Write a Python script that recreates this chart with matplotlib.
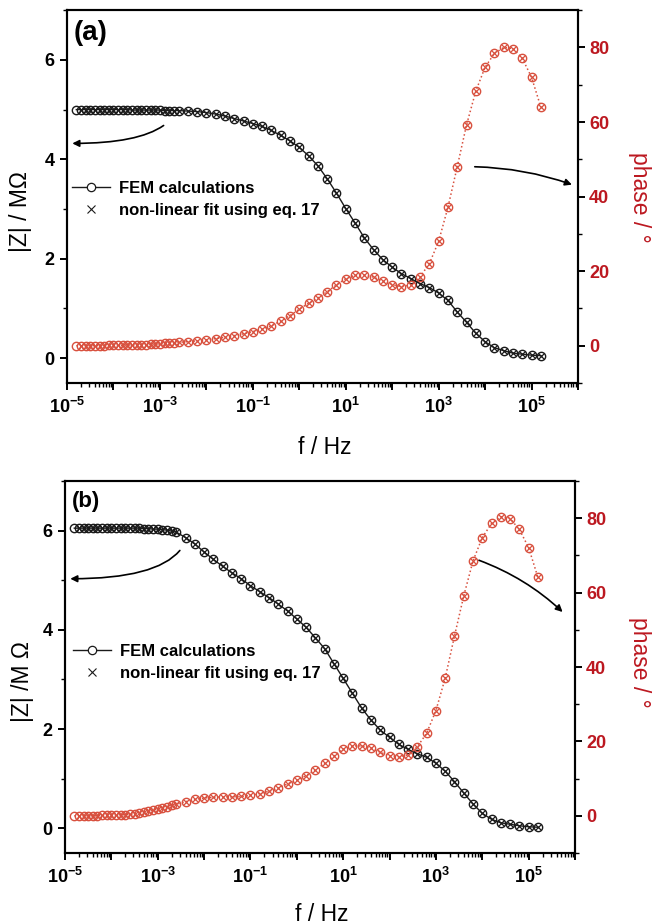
import numpy as np
import matplotlib
matplotlib.use("Agg")
import matplotlib.pyplot as plt
from matplotlib.lines import Line2D
from matplotlib.ticker import FixedLocator, FuncFormatter, LogLocator, MultipleLocator, NullFormatter

plt.rcParams['font.family'] = ['Liberation Sans', 'DejaVu Sans']
plt.rcParams['font.weight'] = 'bold'
plt.rcParams['mathtext.fontset'] = 'custom'
plt.rcParams['mathtext.rm'] = 'Liberation Sans'
plt.rcParams['mathtext.bf'] = 'Liberation Sans:bold'

""" ====================== donnees : log10(f / Hz) ====================== """

log_f = [-4.8, -4.7, -4.6, -4.5, -4.4, -4.3, -4.2, -4.1, -4.0, -3.9, -3.8,
         -3.7, -3.6, -3.5, -3.4, -3.3, -3.2, -3.1, -3.0, -2.9, -2.8, -2.7,
         -2.6, -2.4, -2.2, -2.0, -1.8, -1.6, -1.4, -1.2, -1.0, -0.8, -0.6,
         -0.4, -0.2, 0.0, 0.2, 0.4, 0.6, 0.8, 1.0, 1.2, 1.4, 1.6, 1.8, 2.0,
         2.2, 2.4, 2.6, 2.8, 3.0, 3.2, 3.4, 3.6, 3.8, 4.0, 4.2, 4.4, 4.6,
         4.8, 5.0, 5.2]

# (a) |Z| en MOhm et phase en degres
z_a = [5.00, 5.00, 5.00, 5.00, 5.00, 5.00, 5.00, 5.00, 5.00, 5.00, 5.00,
       5.00, 4.99, 4.99, 4.99, 4.99, 4.99, 4.99, 4.99, 4.98, 4.98, 4.98,
       4.98, 4.97, 4.96, 4.94, 4.91, 4.87, 4.82, 4.77, 4.72, 4.66, 4.58,
       4.48, 4.37, 4.24, 4.07, 3.87, 3.61, 3.32, 3.01, 2.72, 2.42, 2.18,
       1.98, 1.83, 1.70, 1.60, 1.50, 1.42, 1.31, 1.16, 0.93, 0.72, 0.50,
       0.33, 0.21, 0.15, 0.10, 0.08, 0.06, 0.05]
phase_a = [0.0, 0.0, 0.0, 0.0, 0.0, 0.0, 0.0, 0.1, 0.1, 0.1, 0.1,
           0.2, 0.2, 0.2, 0.3, 0.3, 0.4, 0.4, 0.5, 0.6, 0.7, 0.8,
           0.9, 1.1, 1.3, 1.6, 1.9, 2.3, 2.7, 3.2, 3.8, 4.5, 5.4,
           6.6, 8.1, 9.8, 11.4, 12.8, 14.5, 16.3, 18.0, 18.9, 18.9, 18.4,
           17.3, 16.4, 15.8, 16.3, 18.5, 22.0, 28.0, 37.1, 48.0, 59.2, 68.3,
           74.7, 78.4, 80.0, 79.7, 77.1, 72.0, 64.0]

# (b)
z_b = [6.05, 6.05, 6.05, 6.05, 6.05, 6.05, 6.05, 6.05, 6.05, 6.05, 6.05,
       6.05, 6.05, 6.05, 6.05, 6.04, 6.04, 6.03, 6.03, 6.02, 6.01, 5.99,
       5.97, 5.86, 5.73, 5.57, 5.42, 5.28, 5.15, 5.03, 4.89, 4.77, 4.65,
       4.52, 4.38, 4.22, 4.05, 3.84, 3.62, 3.32, 3.02, 2.72, 2.42, 2.18,
       1.98, 1.83, 1.69, 1.59, 1.50, 1.43, 1.31, 1.15, 0.94, 0.71, 0.49,
       0.30, 0.18, 0.11, 0.08, 0.05, 0.03, 0.02]
phase_b = [0.0, 0.0, 0.0, 0.0, 0.0, 0.0, 0.1, 0.1, 0.2, 0.2, 0.3,
           0.3, 0.4, 0.5, 0.7, 0.9, 1.2, 1.5, 1.9, 2.2, 2.5, 2.8,
           3.1, 3.8, 4.4, 4.8, 5.0, 5.1, 5.1, 5.2, 5.5, 6.0, 6.6,
           7.4, 8.6, 9.6, 10.8, 12.4, 14.1, 16.1, 17.9, 18.8, 18.8, 18.2,
           17.1, 16.1, 15.9, 16.4, 18.6, 22.2, 28.3, 37.0, 48.3, 59.1, 68.5,
           74.8, 78.6, 80.4, 79.9, 77.0, 72.1, 64.1]

decades = list(range(-5, 7))
labels_leg = ['FEM calculations', 'non-linear fit using eq. 17']

BLACK = '#1a1a1a'
RED = '#d8503e'
RED_TXT = '#bc1820'

f = 10.0 ** np.array(log_f)


def dec_label(v, pos):
    k = int(round(np.log10(v)))
    if k % 2 == 0 or k > 5:
        return ''
    return r'$\mathbf{10^{%d}}$' % k


def panel(rect, z, ph, tag, tag_size, ylab, lab_pos, leg_pos, arrows):
    ax = fig.add_axes(rect)
    ax2 = ax.twinx()

    # |Z| : FEM (cercles + trait) et ajustement (croix)
    ax.plot(f, z, '-', color=BLACK, lw=1.0, marker='o', ms=6, mfc='none', mew=1.0)
    ax.plot(f[1:], z[1:], 'x', color=BLACK, ms=5, mew=0.9)
    # phase
    ax2.plot(f, ph, ':', color=RED, lw=1.1, marker='o', ms=6, mfc='none', mew=1.0)
    ax2.plot(f[1:], ph[1:], 'x', color=RED, ms=5, mew=0.9)

    ax.set_xscale('log')
    ax.set_xlim(1e-5, 1e6)
    ax.set_ylim(-0.5, 7)
    ax2.set_ylim(-10, 90)

    ax.xaxis.set_major_locator(FixedLocator([10.0 ** k for k in decades]))
    ax.xaxis.set_major_formatter(FuncFormatter(dec_label))
    ax.xaxis.set_minor_locator(LogLocator(base=10, subs=np.arange(2, 10), numticks=30))
    ax.xaxis.set_minor_formatter(NullFormatter())
    ax.yaxis.set_major_locator(FixedLocator([0, 2, 4, 6]))
    ax.yaxis.set_minor_locator(MultipleLocator(1))
    ax2.yaxis.set_major_locator(FixedLocator([0, 20, 40, 60, 80]))
    ax2.yaxis.set_minor_locator(MultipleLocator(10))

    for a in (ax, ax2):
        for s in a.spines.values():
            s.set_linewidth(1.5)
    ax.tick_params(which='major', direction='out', length=5, width=1.4, labelsize=13, pad=4)
    ax.tick_params(which='minor', direction='out', length=3, width=1.0)
    ax.tick_params(axis='x', which='major', pad=5)
    ax2.tick_params(which='major', direction='out', length=5, width=1.4, labelsize=13,
                    pad=3, labelcolor=RED_TXT, color='black')
    ax2.tick_params(which='minor', direction='out', length=3, width=1.0)

    ax.set_xlabel('f / Hz', fontsize=16.5, fontweight='normal', va='center')
    ax.xaxis.set_label_coords(0.504, lab_pos[0])
    ax.set_ylabel(ylab, fontsize=16.5, fontweight='normal', va='center')
    ax.yaxis.set_label_coords(lab_pos[1], lab_pos[2])
    ax2.set_ylabel('phase / °', fontsize=16.5, fontweight='normal', color=RED_TXT,
                   rotation=270, va='center')
    ax2.yaxis.set_label_coords(lab_pos[3], lab_pos[4])

    ax.text(tag[0], tag[1], tag[2], transform=ax.transAxes, fontsize=tag_size,
            fontweight='bold', va='center', ha='left')

    h1 = Line2D([], [], color=BLACK, lw=1.0, marker='o', ms=6, mfc='white', mew=0.9)
    h2 = Line2D([], [], color=BLACK, ls='none', marker='x', ms=6, mew=0.8)
    ax.legend([h1, h2], labels_leg, loc='upper left', bbox_to_anchor=leg_pos,
              frameon=False, prop=dict(size=12, weight='bold'), handlelength=2.3,
              handletextpad=0.5, labelspacing=0.4, borderpad=0, borderaxespad=0)

    # fleches vers les axes
    (s1, e1, cs1), (s2, e2, cs2) = arrows
    ax.annotate('', xy=e1, xytext=s1,
                arrowprops=dict(arrowstyle='-|>', color='black', lw=1.2,
                                connectionstyle=cs1, shrinkA=0, shrinkB=0,
                                mutation_scale=10))
    ax2.annotate('', xy=e2, xytext=s2,
                 arrowprops=dict(arrowstyle='-|>', color='black', lw=1.2,
                                 connectionstyle=cs2, shrinkA=0, shrinkB=0,
                                 mutation_scale=10))
    return ax, ax2


fig = plt.figure(figsize=(6.52, 9.24), dpi=100)

panel([0.1028, 0.5855, 0.7837, 0.4035], z_a, phase_a, (0.012, 0.938, '(a)'), 20,
      '|Z| / MΩ', (-0.172, -0.092, 0.461, 1.121, 0.499), (0.01, 0.542),
      [((1.2e-3, 4.68), (1.3e-5, 4.32), 'angle3,angleA=35,angleB=0'),
       ((6.0e3, 48.0), (7.4e5, 43.2), 'arc3,rad=-0.08')])

panel([0.0997, 0.0768, 0.7822, 0.4026], z_b, phase_b, (0.014, 0.944, '(b)'), 16,
      '|Z| /M Ω', (-0.164, -0.084, 0.46, 1.127, 0.513), (0.016, 0.562),
      [((3.0e-3, 5.6), (1.3e-5, 5.03), 'angle3,angleA=50,angleB=0'),
       ((8.5e3, 68.7), (5.4e5, 54.8), 'arc3,rad=-0.1')])

fig.savefig('out.png', dpi=100)
